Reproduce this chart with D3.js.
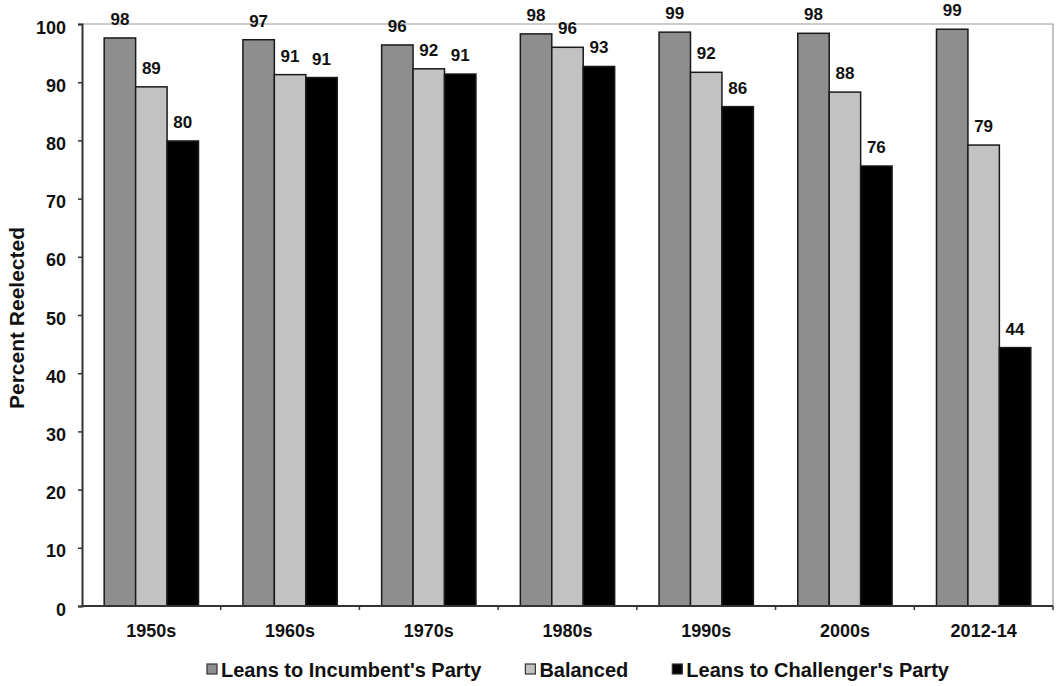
<!DOCTYPE html>
<html>
<head>
<meta charset="utf-8">
<script src="https://cdn.jsdelivr.net/npm/d3@7"></script>
<style>
  body { margin: 0; background: #fff; }
  svg { display: block; font-family: "Liberation Sans", Arial, sans-serif; font-weight: bold; }
</style>
</head>
<body>
<svg id="chart"></svg>
<script>
// decades on the x axis
const decades = ['1950s', '1960s', '1970s', '1980s', '1990s', '2000s', '2012-14'];
const seriesNames = ["Leans to Incumbent's Party", 'Balanced', "Leans to Challenger's Party"];

// percent reelected
const incumbent = [97.6, 97.3, 96.4, 98.3, 98.6, 98.4, 99.1];
const balanced = [89.2, 91.3, 92.3, 96.0, 91.7, 88.3, 79.2];
const challenger = [79.9, 90.8, 91.4, 92.7, 85.8, 75.6, 44.4];

const yTicks = [0, 10, 20, 30, 40, 50, 60, 70, 80, 90, 100];

const colors = ['#8e8e8e', '#c2c2c2', '#000000'];

const width = 1060, height = 686;
const margin = {top: 24, right: 7, bottom: 80, left: 82};

const svg = d3.select('#chart')
    .attr('width', width)
    .attr('height', height);

const data = decades.map((d, i) => ({
    decade: d,
    values: [incumbent[i], balanced[i], challenger[i]]
}));

// Scales
const x0 = d3.scaleBand()
    .domain(decades)
    .range([margin.left, width - margin.right])
    .paddingInner(0.32)
    .paddingOuter(0.16);

const x1 = d3.scaleBand()
    .domain(d3.range(seriesNames.length))
    .range([0, x0.bandwidth()]);

const y = d3.scaleLinear()
    .domain([0, 100])
    .range([height - margin.bottom, margin.top]);

// plot border (top + right)
svg.append('path')
    .attr('d', `M${margin.left},${y(100)}H${width - margin.right}V${y(0)}`)
    .attr('fill', 'none')
    .attr('stroke', '#9a9a9a')
    .attr('stroke-width', 1.2);

// Bars
const groups = svg.append('g').selectAll('g')
    .data(data)
    .join('g')
    .attr('transform', d => `translate(${x0(d.decade)},0)`);

groups.selectAll('rect')
    .data(d => d.values)
    .join('rect')
    .attr('x', (d, i) => x1(i))
    .attr('y', d => y(d))
    .attr('width', x1.bandwidth())
    .attr('height', d => y(0) - y(d))
    .attr('fill', (d, i) => colors[i])
    .attr('stroke', '#1a1a1a')
    .attr('stroke-width', 1.5);

groups.selectAll('text')
    .data(d => d.values)
    .join('text')
    .attr('x', (d, i) => x1(i) + x1.bandwidth() / 2)
    .attr('y', d => y(d) - 13)
    .attr('text-anchor', 'middle')
    .attr('font-size', 17)
    .attr('fill', '#111')
    .text(d => d3.format('.0f')(d));

// Y axis
const yAxis = svg.append('g')
    .attr('transform', `translate(${margin.left},0)`)
    .call(d3.axisLeft(y).tickValues(yTicks).tickSize(4).tickPadding(12));
yAxis.select('.domain').attr('stroke', '#333').attr('stroke-width', 2);
yAxis.selectAll('.tick line').attr('stroke', '#333').attr('stroke-width', 1.5);
yAxis.selectAll('.tick text')
    .attr('font-size', 18)
    .attr('font-family', '"Liberation Sans", Arial, sans-serif')
    .attr('font-weight', 'bold')
    .attr('fill', '#111')
    .attr('dy', '0.5em');

// X axis: ticks at the category boundaries
const xAxis = svg.append('g')
    .attr('transform', `translate(0,${y(0)})`);
xAxis.append('line')
    .attr('x1', margin.left)
    .attr('x2', width - margin.right)
    .attr('stroke', '#333')
    .attr('stroke-width', 2);
const step = x0.step();
xAxis.selectAll('line.tick')
    .data(decades.slice(1).concat(['end']))
    .join('line')
    .attr('class', 'tick')
    .attr('x1', (d, i) => x0(decades[0]) - x0.paddingOuter() * step + (i + 1) * step)
    .attr('x2', (d, i) => x0(decades[0]) - x0.paddingOuter() * step + (i + 1) * step)
    .attr('y1', 0)
    .attr('y2', 4)
    .attr('stroke', '#333')
    .attr('stroke-width', 1.5);
xAxis.selectAll('text')
    .data(decades)
    .join('text')
    .attr('x', d => x0(d) + x0.bandwidth() / 2)
    .attr('y', 31)
    .attr('text-anchor', 'middle')
    .attr('font-size', 18)
    .attr('fill', '#111')
    .text(d => d);

// Y axis title
svg.append('text')
    .attr('transform', `translate(24,${(y(0) + y(100)) / 2 + 3}) rotate(-90)`)
    .attr('text-anchor', 'middle')
    .attr('font-size', 21)
    .attr('fill', '#111')
    .text('Percent Reelected');

// Legend
const legend = svg.append('g');
let lx = 207;
seriesNames.forEach((name, i) => {
    legend.append('rect')
        .attr('x', lx)
        .attr('y', 664)
        .attr('width', 10)
        .attr('height', 10)
        .attr('fill', colors[i])
        .attr('stroke', '#333')
        .attr('stroke-width', 1.2);
    const t = legend.append('text')
        .attr('x', lx + 14)
        .attr('y', 677)
        .attr('font-size', 20)
        .attr('fill', '#111')
        .text(name);
    lx += 14 + t.node().getComputedTextLength() + 44;
});
</script>
</body>
</html>
